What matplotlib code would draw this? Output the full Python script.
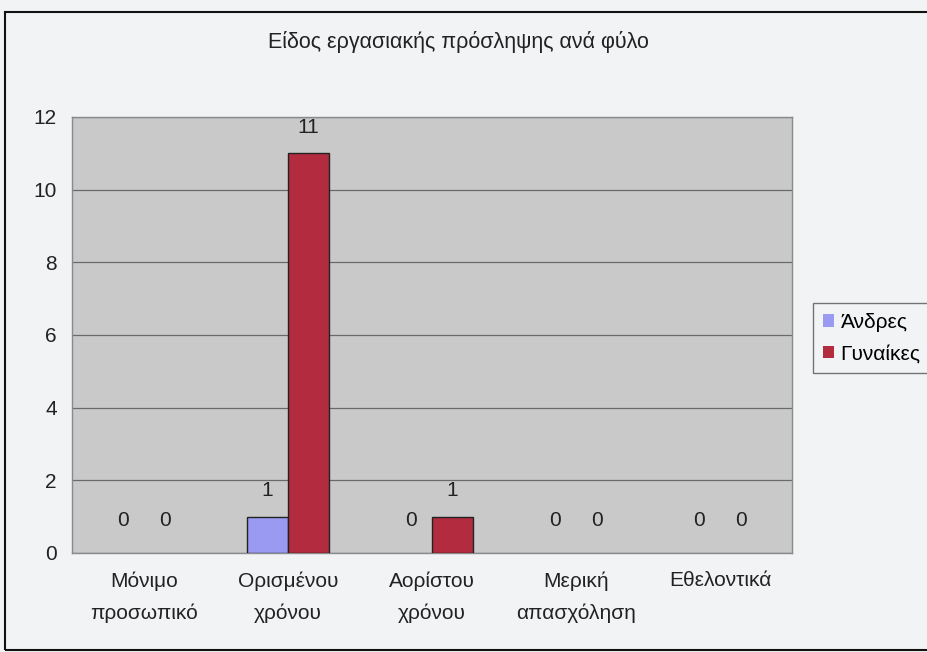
import matplotlib
matplotlib.use("Agg")
import matplotlib.pyplot as plt
import numpy as np
from matplotlib.patches import Rectangle

plt.rcParams['font.family'] = ['Liberation Sans', 'DejaVu Sans']

categories = ["Μόνιμο\nπροσωπικό", "Ορισμένου\nχρόνου", "Αορίστου\nχρόνου", "Μερική\nαπασχόληση", "Εθελοντικά"]
men = [0, 1, 0, 0, 0]
women = [0, 11, 1, 0, 0]
series_names = ["Άνδρες", "Γυναίκες"]
title = "Είδος εργασιακής πρόσληψης ανά φύλο"

fs = 15

fig = plt.figure(figsize=(9.28, 6.52), dpi=100)
fig.patch.set_facecolor('#f1f3f5')

# outer frame
fig.patches.append(Rectangle((5/928, 2/652), 1.2, 638/652, transform=fig.transFigure,
                             fill=False, edgecolor='#111111', linewidth=1.5))

ax = fig.add_axes([72/928, (652-553)/652, 720/928, (553-117)/652])
ax.set_facecolor('#c9c9c9')

x = np.arange(len(categories))
w = 0.285
b1 = ax.bar(x - w/2, men, w, color='#9a9af2', edgecolor='#222222', linewidth=1, label=series_names[0], zorder=3)
b2 = ax.bar(x + w/2, women, w, color='#b32b3e', edgecolor='#222222', linewidth=1, label=series_names[1], zorder=3)

for rects, vals in ((b1, men), (b2, women)):
    for r, v in zip(rects, vals):
        if v == 0:
            r.set_linewidth(0)
        off = 0.9 if v == 0 else 0.72
        ax.text(r.get_x() + r.get_width()/2, v + off, str(v), ha='center', va='center', fontsize=fs, color='#222222')

ax.set_xlim(-0.5, len(categories) - 0.5)
ax.set_ylim(0, 12)
ax.set_yticks(range(0, 13, 2))
ax.yaxis.grid(True, color='#6a6a6a', linewidth=0.9, zorder=1)
ax.set_axisbelow(True)
ax.set_xticks(x)
ax.set_xticklabels(categories, fontsize=fs, linespacing=1.85)
ax.tick_params(axis='both', length=0, labelsize=fs, colors='#222222')
ax.tick_params(axis='x', pad=13)
ax.tick_params(axis='y', pad=11)
for s in ax.spines.values():
    s.set_color('#8a8a8a')
    s.set_linewidth(1)

fig.text(458/928, 1 - 42/652, title, ha='center', va='center', fontsize=15.5, color='#222222')

leg = fig.legend(handles=[b1, b2], labels=series_names, loc='center left',
                 bbox_to_anchor=(803/928, 1 - 338/652), fontsize=fs, frameon=True,
                 handlelength=0.55, handleheight=0.55, handletextpad=0.3, borderpad=0.45,
                 labelspacing=0.6, fancybox=False)
leg.get_frame().set_edgecolor('#555555')
leg.get_frame().set_facecolor('#f1f3f5')

fig.savefig('out.png', dpi=100, facecolor=fig.get_facecolor())
